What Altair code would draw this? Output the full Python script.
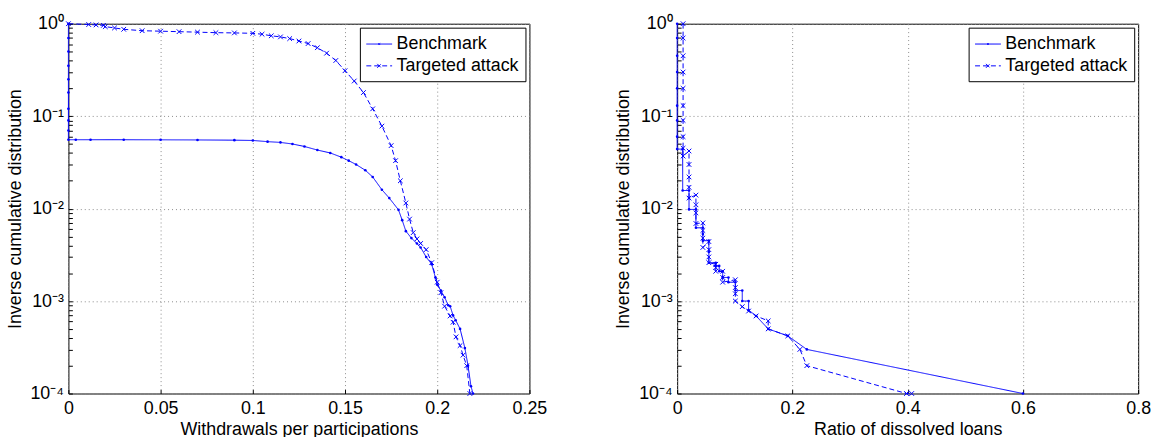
import altair as alt
import pandas as pd

BLUE = "#0000ff"
FONT = "Liberation Sans"

# ---------------- Left panel: withdrawals per participation ----------------
left_bench_x = [0, 0, 0, 0, 0, 0, 0, 0, 0, 0,
                0.004, 0.012, 0.03, 0.05, 0.07, 0.09, 0.1, 0.108, 0.115, 0.1215,
                0.128, 0.135, 0.142, 0.148, 0.152, 0.156, 0.161, 0.165, 0.17, 0.174,
                0.179, 0.181, 0.183, 0.186, 0.189, 0.191, 0.194, 0.197, 0.199, 0.2,
                0.202, 0.204, 0.206, 0.207, 0.2086, 0.21, 0.2124, 0.215, 0.2167, 0.2183,
                0.2194]
left_bench_y = [1.0, 0.7, 0.5, 0.35, 0.25, 0.18, 0.12, 0.09, 0.07, 0.0556,
                0.0556, 0.0556, 0.0556, 0.0555, 0.0553, 0.055, 0.0546, 0.053, 0.052, 0.05,
                0.047, 0.043, 0.04, 0.036, 0.033, 0.03, 0.026, 0.022, 0.016, 0.013,
                0.0097, 0.0075, 0.0057, 0.0048, 0.0042, 0.0038, 0.003, 0.0025, 0.0018, 0.0015,
                0.0013, 0.0011, 0.0009, 0.00088, 0.0007, 0.00062, 0.0005, 0.00031, 0.0002, 0.00012,
                0.0001]
left_targ_x = [0, 0.011, 0.015, 0.019, 0.02, 0.025, 0.03, 0.04, 0.05, 0.06,
               0.07, 0.08, 0.09, 0.1, 0.105, 0.11, 0.115, 0.12, 0.125, 0.13,
               0.135, 0.14, 0.145, 0.15, 0.155, 0.16, 0.165, 0.17, 0.175, 0.1774,
               0.18, 0.183, 0.185, 0.187, 0.189, 0.191, 0.194, 0.197, 0.2, 0.202,
               0.204, 0.207, 0.2086, 0.2102, 0.2124, 0.214, 0.216, 0.2177]
left_targ_y = [1.0, 0.98, 0.97, 0.96, 0.93, 0.9, 0.87, 0.84, 0.83, 0.82,
               0.81, 0.80, 0.795, 0.787, 0.77, 0.74, 0.72, 0.69, 0.65, 0.61,
               0.55, 0.48, 0.4, 0.31, 0.24, 0.18, 0.12, 0.078, 0.048, 0.033,
               0.02, 0.0115, 0.0077, 0.0055, 0.0047, 0.0042, 0.0036, 0.0026, 0.0016, 0.00123,
               0.00088, 0.00069, 0.00059, 0.00041, 0.00033, 0.00026, 0.0002, 0.0001]

# ---------------- Right panel: ratio of dissolved loans ----------------
right_bench_x = [0, 0, 0, 0, 0, 0, 0, 0, 0,
                 0.0096, 0.0096, 0.0206, 0.0206, 0.0206, 0.0326, 0.0326,
                 0.0446, 0.0446, 0.0446, 0.055, 0.055, 0.055, 0.067, 0.067,
                 0.073, 0.073, 0.079, 0.079, 0.089, 0.089, 0.101, 0.101,
                 0.113, 0.113, 0.124, 0.124, 0.137, 0.158, 0.192, 0.225, 0.6]
right_bench_y = [1.0, 0.7, 0.45, 0.3, 0.2, 0.13, 0.09, 0.06, 0.044,
                 0.044, 0.0157, 0.0157, 0.013, 0.0098, 0.0098, 0.0062,
                 0.0062, 0.0053, 0.0045, 0.0045, 0.0034, 0.0026, 0.0026, 0.0024,
                 0.0024, 0.0021, 0.0021, 0.0018, 0.0018, 0.0016, 0.0016, 0.0013,
                 0.0013, 0.001, 0.001, 0.0008, 0.00069, 0.0005, 0.00042, 0.0003, 0.0001]
right_targ_x = [0.0103, 0.0103, 0.0103, 0.0103, 0.0103, 0.0103, 0.0103, 0.0103, 0.0103, 0.0103,
                0.0206, 0.0206, 0.0206, 0.0206, 0.0206,
                0.0326, 0.0326, 0.0326, 0.0326,
                0.0446, 0.0446, 0.0446, 0.0446,
                0.055, 0.055, 0.055, 0.055,
                0.067, 0.067, 0.067,
                0.079, 0.079, 0.079,
                0.101, 0.101, 0.101, 0.101,
                0.113, 0.124, 0.137, 0.158, 0.158, 0.192, 0.213, 0.225, 0.398, 0.407]
right_targ_y = [1.0, 0.7, 0.45, 0.3, 0.2, 0.13, 0.09, 0.06, 0.045, 0.037,
                0.042, 0.03, 0.022, 0.017, 0.013,
                0.014, 0.011, 0.009, 0.0069,
                0.007, 0.0058, 0.0048, 0.0038,
                0.0044, 0.0036, 0.003, 0.0026,
                0.0025, 0.0023, 0.0021,
                0.0021, 0.0018, 0.0016,
                0.0017, 0.0014, 0.0012, 0.001,
                0.00087, 0.00078, 0.00069, 0.00061, 0.0005, 0.00042, 0.0003, 0.0002, 0.0001, 0.0001]

SERIES = ["Benchmark", "Targeted attack"]
Y_MAJOR = [1e-4, 1e-3, 1e-2, 1e-1, 1]
Y_MINOR = [m * d for d in [1e-4, 1e-3, 1e-2, 1e-1] for m in range(2, 10)]
LEFT_X_TICKS = [0, 0.05, 0.1, 0.15, 0.2, 0.25]
RIGHT_X_TICKS = [0, 0.2, 0.4, 0.6, 0.8]

X_PATH = "M-1,-1L1,1M-1,1L1,-1"
LEGEND_SHAPE = ("datum.value === 'Benchmark' ? "
                "'M-1.3,0H1.3M-0.09,-0.09L0.09,0.09M-0.09,0.09L0.09,-0.09' : "
                "'M-1.3,0H1.3M-0.2,-0.2L0.2,0.2M-0.2,0.2L0.2,-0.2'")
Y_LABELS = ("abs(log(datum.value)/LN10 - round(log(datum.value)/LN10)) < 0.001 ? "
            "['10\u2070','10\u207b\u00b9','10\u207b\u00b2','10\u207b\u00b3','10\u207b\u2074']"
            "[round(-log(datum.value)/LN10)] : ''")


def frame(bx, by, tx, ty):
    rows = []
    for i, (x, y) in enumerate(zip(bx, by)):
        rows.append({"x": x, "y": y, "series": SERIES[0], "i": i})
    for i, (x, y) in enumerate(zip(tx, ty)):
        rows.append({"x": x, "y": y, "series": SERIES[1], "i": i})
    return pd.DataFrame(rows)


def panel(df, xdom, xticks, xtitle):
    xscale = alt.Scale(domain=xdom, nice=False, zero=False)
    yscale = alt.Scale(type="log", domain=[1e-4, 1], nice=False)
    x_main = alt.X("x:Q", scale=xscale, axis=alt.Axis(
        orient="bottom", values=xticks, format="~g", title=xtitle, grid=False, domain=False,
        ticks=True, tickSize=4, offset=-4, tickColor="black",
        labelFontSize=18, titleFontSize=18, titleFontWeight="normal",
        labelColor="black", titleColor="black", labelPadding=6, titlePadding=3,
        labelFont=FONT, titleFont=FONT, labelFlush=False))
    y_main = alt.Y("y:Q", scale=yscale, axis=alt.Axis(
        orient="left", values=Y_MAJOR + Y_MINOR, labelExpr=Y_LABELS,
        title="Inverse cumulative distribution", grid=False, domain=False,
        ticks=True, tickSize=4, offset=-4, tickColor="black",
        labelFontSize=18, titleFontSize=18, titleFontWeight="normal",
        labelColor="black", titleColor="black", labelPadding=5, titlePadding=6,
        labelFont=FONT, titleFont=FONT, labelFlush=False, labelOverlap=False))
    x_none = alt.X("x:Q", scale=xscale, axis=None)
    y_none = alt.Y("y:Q", scale=yscale, axis=None)
    base = alt.Chart(df)
    line = base.mark_line(color=BLUE, strokeWidth=1, clip=False).encode(
        x=x_main, y=y_main,
        strokeDash=alt.StrokeDash("series:N", scale=alt.Scale(
            domain=SERIES, range=[[1, 0], [5, 3]]),
            legend=alt.Legend(
                title=None, orient="top-right", offset=4,
                strokeColor="black", fillColor="white", padding=6,
                labelFontSize=18, labelFont=FONT, labelColor="black",
                symbolSize=400, symbolStrokeColor=BLUE, symbolStrokeWidth=1,
                symbolType={"expr": LEGEND_SHAPE}, labelOffset=7, rowPadding=2,
                symbolOffset=3)),
        order="i:Q")
    pts_b = base.transform_filter(alt.datum.series == SERIES[0]).mark_point(
        shape="circle", filled=True, size=7, color=BLUE, opacity=1).encode(x=x_none, y=y_none)
    pts_t = base.transform_filter(alt.datum.series == SERIES[1]).mark_point(
        shape=X_PATH, filled=False, size=22, color=BLUE, strokeWidth=1, opacity=1).encode(
        x=x_none, y=y_none)
    grid = base.mark_point(opacity=0).encode(
        x=alt.X("x:Q", scale=xscale, axis=alt.Axis(
            orient="top", values=xticks, grid=True, labels=False, ticks=False, domain=False,
            title=None, gridColor="#8c8c8c", gridDash=[1, 3], gridWidth=1)),
        y=alt.Y("y:Q", scale=yscale, axis=alt.Axis(
            orient="right", values=Y_MAJOR, grid=True, labels=False, ticks=False, domain=False,
            title=None, gridColor="#8c8c8c", gridDash=[1, 3], gridWidth=1)))
    return alt.layer(grid, line, pts_b, pts_t).resolve_axis(
        x="independent", y="independent").properties(width=465, height=373)


left = panel(frame(left_bench_x, left_bench_y, left_targ_x, left_targ_y),
             [0, 0.25], LEFT_X_TICKS, "Withdrawals per participations")
right = panel(frame(right_bench_x, right_bench_y, right_targ_x, right_targ_y),
              [0, 0.8], RIGHT_X_TICKS, "Ratio of dissolved loans")

chart = alt.hconcat(left, right, spacing=66).resolve_legend(
    strokeDash="independent"
).configure(
    font=FONT, padding={"left": 5, "top": 12, "right": 5, "bottom": 2}
).configure_view(stroke="black", strokeWidth=1)

chart.save("out.html", embed_options={"renderer": "svg", "actions": False})
